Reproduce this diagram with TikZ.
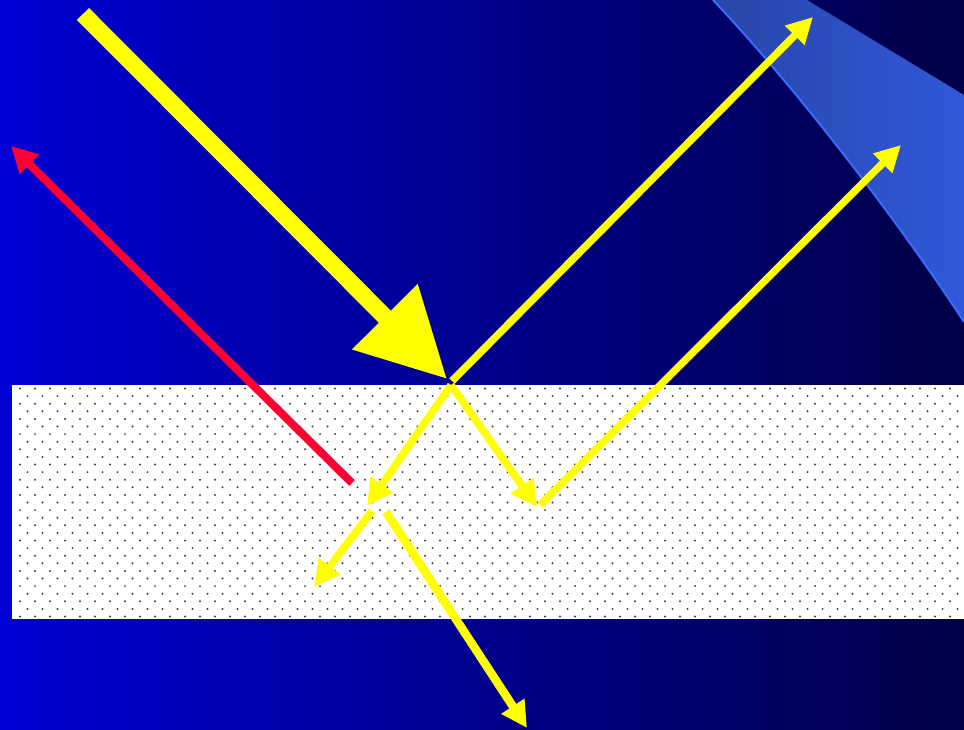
\documentclass[tikz,border=0pt]{standalone}
\usetikzlibrary{arrows.meta}

\definecolor{skyl}{RGB}{0,0,212}
\definecolor{skyr}{RGB}{0,0,70}
\definecolor{bandl}{RGB}{40,70,168}
\definecolor{bandr}{RGB}{48,88,218}
\definecolor{rim}{RGB}{58,106,255}
\definecolor{beam}{RGB}{255,255,0}
\definecolor{echo}{RGB}{255,0,51}

\tikzset{
    ray/.style={
        color=beam,
        line width=7.5pt,
        -{Triangle[length=26pt,width=26pt]}
    },
    mainray/.style={
        color=beam,
        line width=17pt,
        -{Triangle[length=88pt,width=88pt]}
    },
    echoray/.style={
        color=echo,
        line width=8pt,
        -{Triangle[length=26pt,width=26pt]}
    },
    grain/.style={
        fill=black!75
    }
}

\begin{document}
\begin{tikzpicture}[x=1pt,y=-1pt]
\useasboundingbox (0,0) rectangle (964,730);
		% sky and band
		\shade[left color=skyl, right color=skyr] (0,0) rectangle (964,730);
		\shade[left color=bandl, right color=bandr]
			(713,0) .. controls (800,92) and (905,231) .. (964,322)
			-- (964,95) -- (807,0) -- cycle;
		\draw[rim, line width=2pt]
			(713,0) .. controls (800,92) and (905,231) .. (964,322);
		% slab
		\fill[white] (12,385) rectangle (964,619);
		\foreach \r in {0,...,30}
			\foreach \c in {0,...,62}
				\fill[grain] ({20+7.5*mod(\r,2)+15*\c},{388.5+7.6*\r}) circle (1.1pt);

		\path
			coordinate (src) at (83,14)
			coordinate (hit) at (447,379)
			coordinate (out) at (452,381)
			coordinate (top1) at (813,17)
			coordinate (in) at (451,385)
			coordinate (d1) at (367,506)
			coordinate (d2) at (537,507)
			coordinate (up) at (540,505)
			coordinate (top2) at (901,145)
			;
		\path
			coordinate (s1) at (372,511)
			coordinate (low) at (314,587)
			coordinate (s2) at (386,512)
			coordinate (exit) at (527,728)
			coordinate (e0) at (352,483)
			coordinate (e1) at (11,146)
			;

		\path [mainray]
			(src) edge (hit);
		\path [ray]
			(out) edge (top1)
			(in) edge (d1)
			     edge (d2)
			(up) edge (top2)
			(s1) edge (low)
			;
		\path [ray, line width=8.5pt]
			(s2) edge (exit);
		\path [echoray]
			(e0) edge (e1);
\end{tikzpicture}
\end{document}
